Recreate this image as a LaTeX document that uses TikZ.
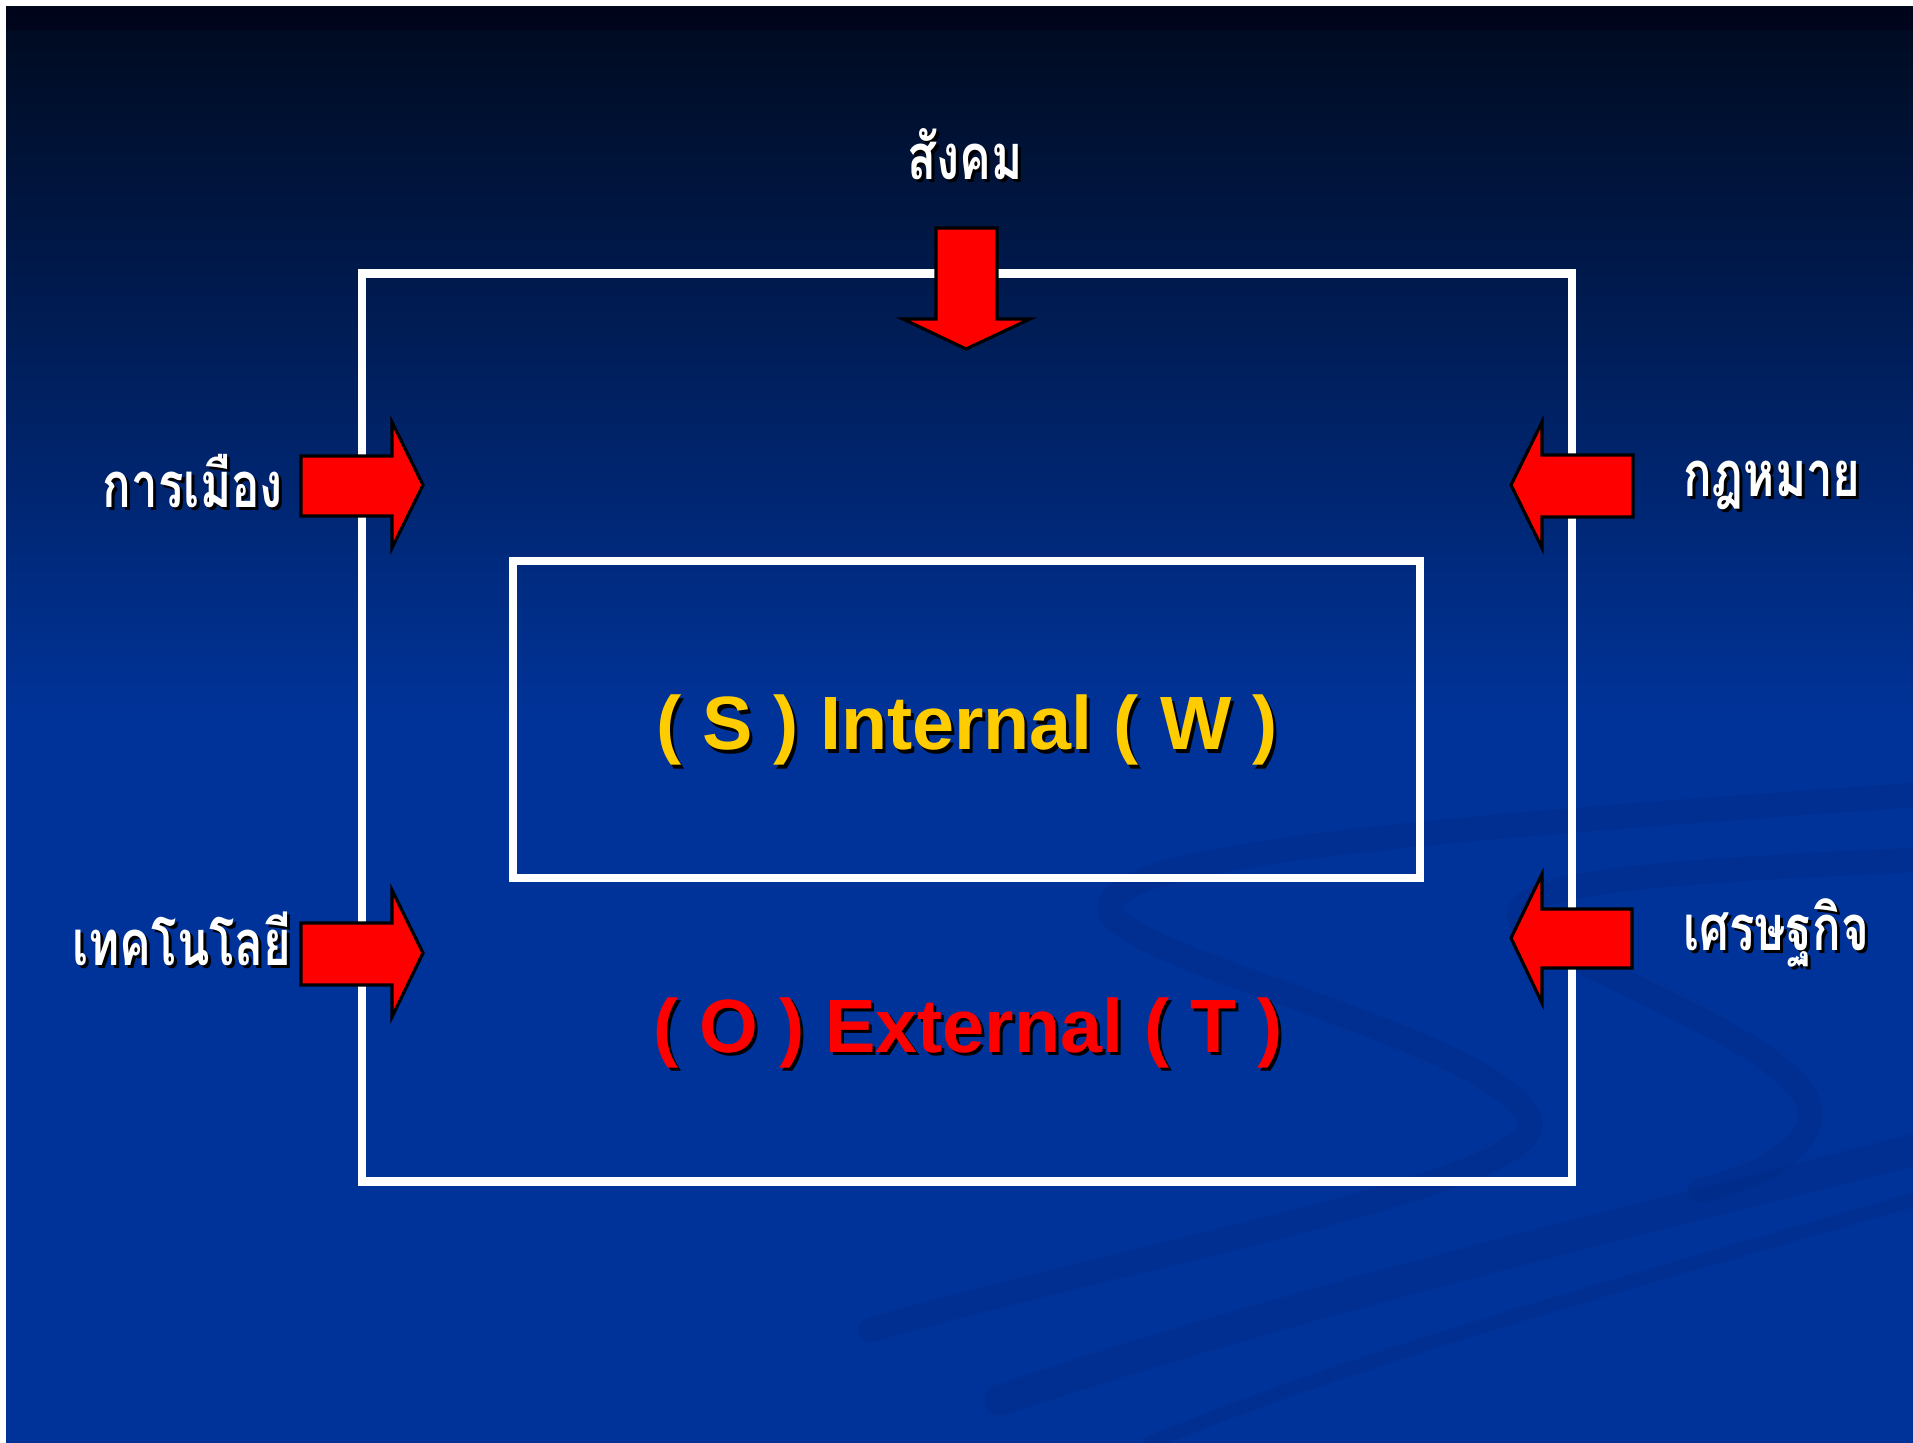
\documentclass[tikz,border=0pt]{standalone}
\usepackage{fontspec}
\setmainfont{Liberation Sans}
\newfontfamily\thaifont[Script=Thai,FakeStretch=0.75]{Loma}
\definecolor{slideblue}{HTML}{003399}
\definecolor{topdark}{HTML}{000A1E}
\definecolor{swoosh}{HTML}{00287F}
\definecolor{boxyellow}{HTML}{FFCC00}
\definecolor{arrowred}{HTML}{FF0000}
\tikzset{
  framebox/.style={draw=white, line width=2.3pt},
  redarrow/.style={fill=arrowred, draw=black, line width=0.9pt, line join=miter},
  thailabel/.style={font=\thaifont\bfseries\fontsize{18}{20}\selectfont, text=white, anchor=base, inner sep=0pt},
  thaishadow/.style={font=\thaifont\bfseries\fontsize{18}{20}\selectfont, text=black, anchor=base, inner sep=0pt},
  biglabel/.style={font=\bfseries\fontsize{21.5}{26}\selectfont, anchor=base, inner sep=0pt},
  swooshband/.style={draw=swoosh, line cap=round, opacity=0.3}
}
\begin{document}
\begin{tikzpicture}[x=0.1mm,y=-0.1mm]
\useasboundingbox (0,0) rectangle (1913,1443);
% page background and slide
\fill[white] (0,0) rectangle (1913,1443);
\fill[slideblue] (6,7) rectangle (1913,1443);
\shade[top color=topdark, bottom color=slideblue] (6,7) rectangle (1913,720);
\fill[black!90!blue, opacity=0.6] (6,7) rectangle (1913,30);
% faint background swooshes
\begin{scope}
\clip (6,7) rectangle (1913,1443);
\draw[swooshband, line width=7pt] (1913,795) .. controls (1500,825) and (1100,850) .. (1110,910)
  .. controls (1120,960) and (1500,1040) .. (1530,1120) .. controls (1550,1180) and (1150,1250) .. (870,1330);
\draw[swooshband, line width=7pt] (1913,860) .. controls (1700,870) and (1500,880) .. (1520,920)
  .. controls (1540,960) and (1800,1040) .. (1810,1110) .. controls (1815,1150) and (1750,1180) .. (1700,1190);
\draw[swooshband, line width=9pt] (1913,1150) .. controls (1600,1230) and (1300,1300) .. (1000,1400);
\draw[swooshband, line width=4pt] (1913,1200) .. controls (1600,1290) and (1350,1360) .. (1150,1443);
\end{scope}
% frames
\draw[framebox] (362,273.5) rectangle (1572,1181.5);
\draw[framebox] (513,561) rectangle (1420,878);
% arrows
\draw[redarrow] (936,228) -- (997,228) -- (997,319) -- (1030,319) -- (966,349) -- (903,319) -- (936,319) -- cycle;
\draw[redarrow] (301,456) -- (392,456) -- (392,422) -- (423,485) -- (392,548) -- (392,516) -- (301,516) -- cycle;
\draw[redarrow] (301,923) -- (392,923) -- (392,890) -- (423,953) -- (392,1017) -- (392,985) -- (301,985) -- cycle;
\draw[redarrow] (1633,455) -- (1542,455) -- (1542,422) -- (1511,485) -- (1542,548) -- (1542,517) -- (1633,517) -- cycle;
\draw[redarrow] (1632,909) -- (1542,909) -- (1542,874) -- (1511,938) -- (1542,1003) -- (1542,968) -- (1632,968) -- cycle;
% Thai labels with shadow
\node[thaishadow] at (968,183) {สังคม};
\node[thailabel] (society) at (965,180) {สังคม};
\node[thaishadow] at (196,511) {การเมือง};
\node[thailabel] (politics) at (193,508) {การเมือง};
\node[thaishadow] at (185,968) {เทคโนโลยี};
\node[thailabel] (technology) at (182,965) {เทคโนโลยี};
\node[thaishadow] at (1775,500) {กฎหมาย};
\node[thailabel] (law) at (1772,497) {กฎหมาย};
\node[thaishadow] at (1779,953) {เศรษฐกิจ};
\node[thailabel] (economy) at (1776,950) {เศรษฐกิจ};
% main labels with shadow
\node[biglabel, text=black] at (970,753) {( S ) Internal ( W )};
\node[biglabel, text=boxyellow] (internal) at (967,750) {( S ) Internal ( W )};
\node[biglabel, text=black] at (971,1055) {( O ) External ( T )};
\node[biglabel, text=arrowred] (external) at (968,1052) {( O ) External ( T )};
\end{tikzpicture}
\end{document}
